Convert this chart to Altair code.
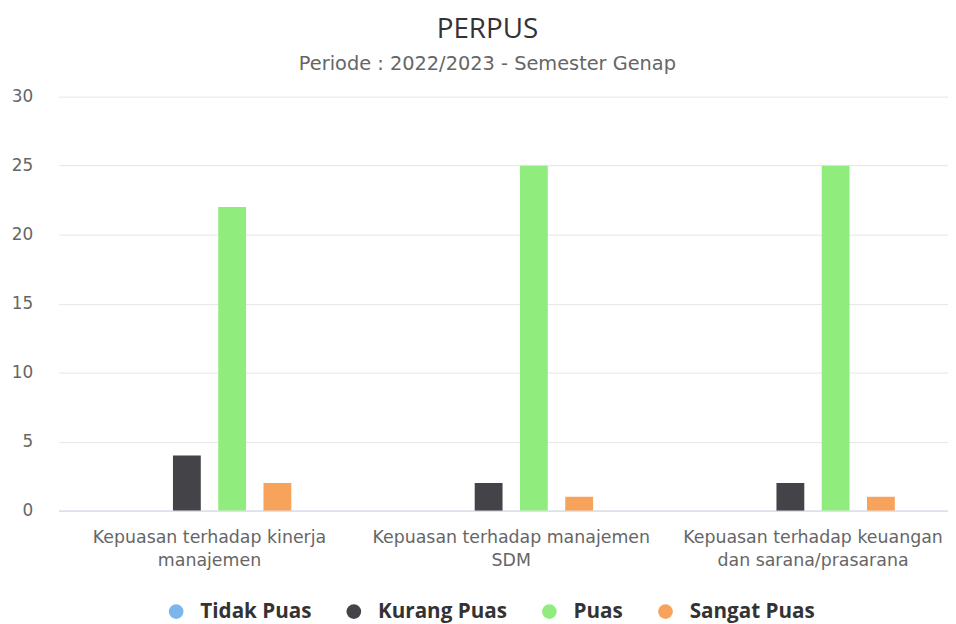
import altair as alt
import pandas as pd

categories = [
    "Kepuasan terhadap kinerja manajemen",
    "Kepuasan terhadap manajemen SDM",
    "Kepuasan terhadap keuangan dan sarana/prasarana",
]
label_lines = [
    ["Kepuasan terhadap kinerja", "manajemen"],
    ["Kepuasan terhadap manajemen", "SDM"],
    ["Kepuasan terhadap keuangan", "dan sarana/prasarana"],
]
series = ["Tidak Puas", "Kurang Puas", "Puas", "Sangat Puas"]
colors = ["#7cb5ec", "#434348", "#90ed7d", "#f7a35c"]
tidak_puas = [0, 0, 0]
kurang_puas = [4, 2, 2]
puas = [22, 25, 25]
sangat_puas = [2, 1, 1]
y_ticks = [0, 5, 10, 15, 20, 25, 30]

values = [tidak_puas, kurang_puas, puas, sangat_puas]
rows = []
for s, vals in zip(series, values):
    for c, v in zip(categories, vals):
        rows.append({"kategori": c, "seri": s, "nilai": v})
df = pd.DataFrame(rows)

# label expression mapping each category to its two-line label
parts = []
for c, lines in zip(categories, label_lines):
    arr = "[" + ", ".join("'" + l + "'" for l in lines) + "]"
    parts.append(f"datum.value == '{c}' ? {arr}")
label_expr = " : ".join(parts) + " : datum.value"

chart = (
    alt.Chart(df)
    .mark_bar()
    .encode(
        x=alt.X(
            "kategori:N",
            sort=categories,
            scale=alt.Scale(paddingInner=0.4, paddingOuter=0.2, range=[0, 912]),
            axis=alt.Axis(
                title=None,
                labelAngle=0,
                labelExpr=label_expr,
                labelFont="DejaVu Sans",
                labelFontSize=17.5,
                labelColor="#666666",
                labelPadding=18,
                labelLineHeight=23,
                labelLimit=0,
                ticks=False,
                domainColor="#ccd6eb",
                domainWidth=1,
                grid=False,
            ),
        ),
        xOffset=alt.XOffset(
            "seri:N",
            sort=series,
            scale=alt.Scale(paddingInner=0.385, paddingOuter=0.1925),
        ),
        y=alt.Y(
            "nilai:Q",
            scale=alt.Scale(domain=[0, 30], nice=False),
            axis=alt.Axis(
                title=None,
                values=y_ticks,
                labelFont="DejaVu Sans",
                labelFontSize=17,
                labelColor="#666666",
                labelPadding=26,
                ticks=False,
                domain=False,
                gridColor="#e6e6e6",
                gridWidth=1,
            ),
        ),
        color=alt.Color(
            "seri:N",
            sort=series,
            scale=alt.Scale(domain=series, range=colors),
            legend=alt.Legend(
                title=None,
                orient="none",
                direction="horizontal",
                legendX=108,
                legendY=508,
                symbolType="circle",
                symbolSize=220,
                symbolStrokeWidth=0,
                labelFont="Open Sans",
                labelFontSize=20.8,
                labelFontWeight="bold",
                labelColor="#333333",
                labelOffset=14,
                columnPadding=32,
            ),
        ),
    )
    .properties(
        width=896,
        height=417,
        autosize=alt.AutoSizeParams(type="none"),
        padding={"left": 51, "top": 87, "right": 0, "bottom": 118},
        title=alt.TitleParams(
            text="PERPUS",
            subtitle="Periode : 2022/2023 - Semester Genap",
            anchor="middle",
            dx=-16,
            font="Open Sans",
            fontSize=28,
            fontWeight="normal",
            color="#333333",
            subtitleFont="DejaVu Sans",
            subtitleFontSize=19.5,
            subtitleColor="#666666",
            subtitlePadding=12,
            offset=14,
        ),
    )
    .configure_view(stroke=None)
)

chart.save("out.html", embed_options={"renderer": "svg", "actions": False})
